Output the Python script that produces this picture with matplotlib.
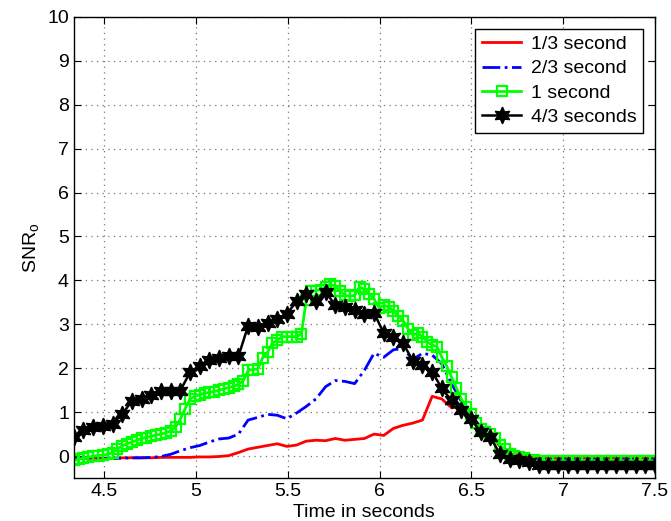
import numpy as np
import matplotlib
matplotlib.use("Agg")
import matplotlib.pyplot as plt

plt.rcParams['font.family'] = ['Liberation Sans', 'DejaVu Sans']

t_start = 4.3333
t_end = 7.5

# 1/3 second (red line), 61 samples
snr_red = [-0.05, -0.05, -0.05, -0.05, -0.05, -0.04, -0.04, -0.04, -0.04, -0.03,
           -0.03, -0.03, -0.03, -0.02, -0.02, -0.01, 0.01, 0.08, 0.16, 0.20,
           0.24, 0.28, 0.22, 0.25, 0.34, 0.36, 0.35, 0.40, 0.36, 0.38,
           0.40, 0.50, 0.47, 0.63, 0.70, 0.75, 0.82, 1.36, 1.30, 1.10,
           1.12, 0.90, 0.62, 0.50, 0.22, 0.05, 0.02, -0.02, -0.04, -0.05,
           -0.05, -0.05, -0.05, -0.05, -0.05, -0.05, -0.05, -0.05, -0.05, -0.05,
           -0.05]

# 2/3 second (blue dash-dot), 61 samples
snr_blue = [-0.04, -0.04, -0.04, -0.05, -0.05, -0.05, -0.04, -0.04, -0.03, -0.01,
            0.04, 0.12, 0.19, 0.24, 0.32, 0.39, 0.41, 0.50, 0.82, 0.88,
            0.95, 0.93, 0.85, 0.98, 1.13, 1.30, 1.58, 1.72, 1.70, 1.65,
            1.95, 2.34, 2.25, 2.42, 2.45, 2.20, 2.34, 2.30, 2.10, 1.65,
            1.25, 0.95, 0.62, 0.50, 0.25, 0.03, -0.04, -0.07, -0.08, -0.08,
            -0.08, -0.08, -0.08, -0.08, -0.08, -0.08, -0.08, -0.08, -0.08, -0.08,
            -0.08]

# 1 second (green squares), 121 samples
snr_green = [-0.10, -0.07, -0.05, -0.03, 0.00, 0.01, 0.02, 0.04, 0.08, 0.16,
             0.23, 0.28, 0.32, 0.36, 0.40, 0.42, 0.45, 0.48, 0.50, 0.53,
             0.57, 0.66, 0.84, 1.08, 1.30, 1.36, 1.40, 1.43, 1.45, 1.47,
             1.50, 1.53, 1.56, 1.59, 1.63, 1.72, 1.95, 1.97, 1.98, 2.24,
             2.36, 2.57, 2.64, 2.72, 2.72, 2.72, 2.72, 2.78, 3.55, 3.75,
             3.77, 3.79, 3.85, 3.91, 3.87, 3.76, 3.66, 3.64, 3.66, 3.85,
             3.80, 3.70, 3.58, 3.38, 3.43, 3.40, 3.30, 3.19, 3.08, 2.90,
             2.76, 2.80, 2.72, 2.60, 2.53, 2.49, 2.25, 2.05, 1.80, 1.55,
             1.30, 1.12, 0.95, 0.75, 0.62, 0.55, 0.50, 0.42, 0.25, 0.15,
             0.05, 0.00, -0.03, -0.05, -0.08, -0.10, -0.11, -0.11, -0.11, -0.11,
             -0.11, -0.11, -0.11, -0.11, -0.11, -0.11, -0.11, -0.11, -0.11, -0.11,
             -0.11, -0.11, -0.11, -0.11, -0.11, -0.11, -0.11, -0.11, -0.11, -0.11,
             -0.11]

# 4/3 seconds (black stars), 61 samples
snr_black = [0.43, 0.59, 0.66, 0.69, 0.74, 0.95, 1.26, 1.29, 1.39, 1.49,
             1.48, 1.49, 1.91, 2.05, 2.19, 2.24, 2.27, 2.27, 2.97, 2.93,
             3.04, 3.12, 3.24, 3.52, 3.69, 3.54, 3.74, 3.43, 3.39, 3.33,
             3.23, 3.26, 2.80, 2.71, 2.57, 2.17, 2.08, 1.92, 1.54, 1.27,
             1.06, 0.85, 0.55, 0.43, 0.05, -0.06, -0.08, -0.14, -0.20, -0.21,
             -0.21, -0.21, -0.21, -0.21, -0.21, -0.21, -0.21, -0.21, -0.21, -0.21,
             -0.21]

x_ticks = [4.5, 5, 5.5, 6, 6.5, 7, 7.5]
x_tick_labels = ['4.5', '5', '5.5', '6', '6.5', '7', '7.5']
y_ticks = list(range(0, 11))

t_red = np.linspace(t_start, t_end, len(snr_red))
t_blue = np.linspace(t_start, t_end, len(snr_blue))
t_green = np.linspace(t_start, t_end, len(snr_green))
t_black = np.linspace(t_start, t_end, len(snr_black))

fig = plt.figure(figsize=(6.71, 5.21), dpi=100)
ax = fig.add_axes([0.110, 0.0825, 0.866, 0.885])

ax.plot(t_red, snr_red, color='#ff0000', lw=2, label='1/3 second')
ax.plot(t_blue, snr_blue, color='#0000ff', lw=2, ls='-.', label='2/3 second')
ax.plot(t_green, snr_green, color='#00ff00', lw=2, marker='s', ms=6.5,
        mfc='none', mec='#00ff00', mew=1.6, label='1 second')
ax.plot(t_black, snr_black, color='black', lw=1.8, marker=(6, 1, 0), ms=12,
        mfc='black', mec='black', label='4/3 seconds')

ax.set_xlim(t_start, t_end)
ax.set_ylim(-0.5, 10)
ax.set_xticks(x_ticks)
ax.set_xticklabels(x_tick_labels)
ax.set_yticks(y_ticks)
ax.tick_params(direction='in', top=True, right=True, labelsize=14, length=5)
ax.grid(True, color='#777777', ls=(0, (1, 3.5)), lw=0.9)
for s in ax.spines.values():
    s.set_linewidth(1.0)

ax.set_xlabel('Time in seconds', fontsize=14, labelpad=3)
ax.set_ylabel('SNR$_\\mathregular{o}$', fontsize=14, labelpad=4)

leg = ax.legend(loc='upper right', fontsize=14, fancybox=False, framealpha=1,
                edgecolor='black', borderaxespad=0.6, handlelength=2.0,
                handletextpad=0.5, labelspacing=0.35, borderpad=0.35)
leg.get_frame().set_linewidth(1.0)

fig.savefig('out.png', dpi=100)
